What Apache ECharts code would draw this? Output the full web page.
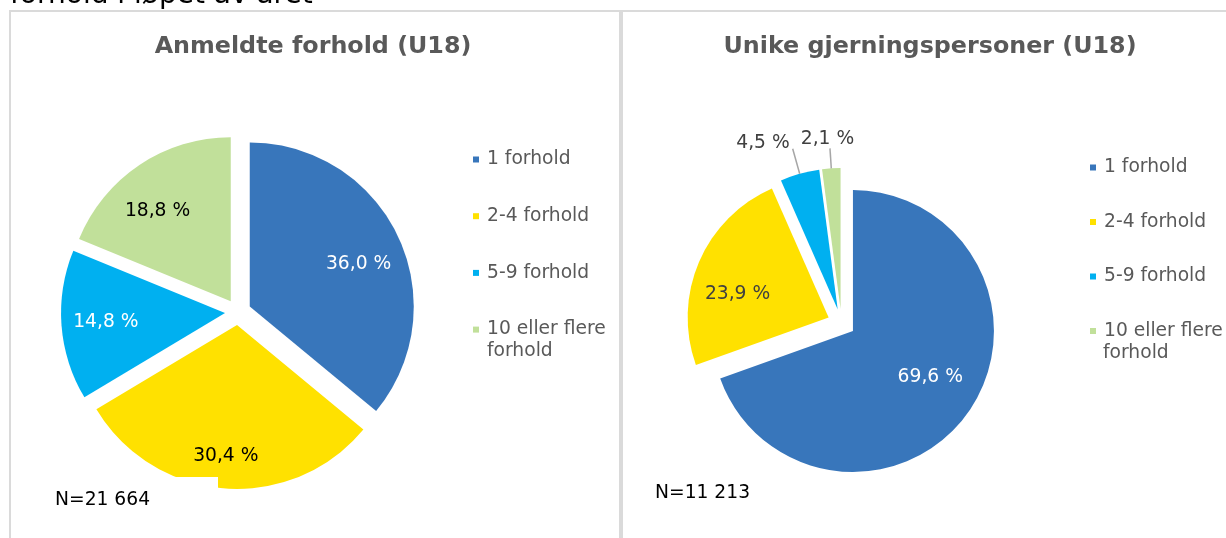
<!DOCTYPE html>
<html>
<head>
<meta charset="utf-8">
<script src="https://cdn.jsdelivr.net/npm/echarts@6/dist/echarts.min.js"></script>
<style>
html,body{margin:0;padding:0;background:#fff;}
#chart{width:1226px;height:538px;}
</style>
</head>
<body>
<div id="chart"></div>
<script>
// ---- data ----
const categories = ['1 forhold', '2-4 forhold', '5-9 forhold', '10 eller flere forhold'];
const anmeldteValues = [36.0, 30.4, 14.8, 18.8];
const unikeValues = [69.6, 23.9, 4.5, 2.1];
const colors = ['#3876bb', '#ffe100', '#00b0f0', '#c1e09a'];
const leftTitle = 'Anmeldte forhold (U18)';
const rightTitle = 'Unike gjerningspersoner (U18)';
const leftN = 'N=21 664';
const rightN = 'N=11 213';
const leftLabelColors = ['#ffffff', '#000000', '#ffffff', '#000000'];
const rightLabelColors = ['#ffffff', '#404040', '#404040', '#404040'];

const FONT = 'DejaVu Sans, Verdana, sans-serif';
const FS = 18.7;
const fmt = v => v.toFixed(1).replace('.', ',') + ' %';

// label fine placement (vertical anchor + padding) per slice
const leftLabelVA = ['top', 'top', 'middle', 'top'];
const leftLabelPad = [[0.5, 4, 0, 0], [0, 4, 0, 0], [0, 0, 0, 6], [2.5, 10, 0, 0]];
const rightLabelVA = ['bottom', 'top', 'bottom', 'bottom'];
const rightLabelPad = [[0, 4, 0, 0], [5.5, 4, 0, 0], [0, 3, -4, 0], [0, 5, 0, 0]];
const rightLabelAlign = [null, null, null, 'center'];

function visiblePie(values, center, radius, offset) {
  return {
    type: 'pie', center: center, radius: radius,
    startAngle: 90, clockwise: true,
    selectedMode: 'multiple', selectedOffset: offset,
    avoidLabelOverlap: false,
    label: { show: false }, labelLine: { show: false },
    emphasis: { disabled: true },
    select: { itemStyle: { borderWidth: 0 } },
    z: 2,
    data: categories.map((c, i) => ({
      name: c, value: values[i], selected: true,
      itemStyle: { color: colors[i], borderWidth: 0 }
    }))
  };
}

function labelPie(values, center, r0, radius, offset, labelColors, pads, vAligns, hAligns, outside) {
  return {
    type: 'pie', center: center, radius: [r0, radius],
    startAngle: 90, clockwise: true,
    selectedMode: 'multiple', selectedOffset: offset,
    avoidLabelOverlap: false, silent: true,
    emphasis: { disabled: true },
    select: { itemStyle: { borderWidth: 0 } },
    z: 3,
    label: {
      show: true, position: 'inside', fontFamily: FONT, fontSize: FS, lineHeight: 19,
      formatter: p => fmt(p.value)
    },
    labelLine: { show: false },
    labelLayout: function (p) {
      const o = { verticalAlign: vAligns[p.dataIndex] };
      if (hAligns && hAligns[p.dataIndex]) o.align = hAligns[p.dataIndex];
      return o;
    },
    data: categories.map((c, i) => {
      const d = {
        name: c, value: values[i], selected: true,
        itemStyle: { color: 'rgba(0,0,0,0)', borderWidth: 0 },
        label: { color: labelColors[i], padding: pads[i] }
      };
      if (outside && outside[i]) {
        d.label.position = 'outside';
        d.label.distanceToLabelLine = 0;
        d.labelLine = { show: true, length: outside[i], length2: 0,
          lineStyle: { color: '#a6a6a6', width: 1.5 } };
      }
      return d;
    })
  };
}

const rightOutsideLen = { 2: 26, 3: 20 };

function legend(left, top, gap) {
  return {
    orient: 'vertical', left: left, top: top, padding: 0,
    itemWidth: 6, itemHeight: 6, icon: 'rect', itemGap: gap,
    selectedMode: false,
    data: categories,
    formatter: n => n === '10 eller flere forhold' ? '10 eller flere' : n,
    textStyle: { fontFamily: FONT, fontSize: FS, lineHeight: 18, color: '#595959', padding: [0, 0, 0, 3] }
  };
}

const chart = echarts.init(document.getElementById('chart'), null, { renderer: 'canvas' });
chart.setOption({
  animation: false,
  backgroundColor: '#ffffff',
  color: colors,
  legend: [legend(473, 150, 37.7), legend(1090, 158, 35.5)],
  graphic: [
    { type: 'text', x: 10, y: -4.5, z: 1, style: { text: 'forhold i løpet av året', font: '28px ' + FONT, fill: '#000', verticalAlign: 'middle' } },
    { type: 'rect', shape: { x: 10, y: 11, width: 610, height: 600 }, z: 0, style: { fill: 'none', stroke: '#dadada', lineWidth: 2 } },
    { type: 'rect', shape: { x: 622, y: 11, width: 700, height: 600 }, z: 0, style: { fill: 'none', stroke: '#dadada', lineWidth: 2 } },
    { type: 'text', x: 313, y: 47, z: 10, style: { text: leftTitle, font: 'bold 23.8px ' + FONT, fill: '#595959', align: 'center', verticalAlign: 'middle' } },
    { type: 'text', x: 930, y: 47, z: 10, style: { text: rightTitle, font: 'bold 23.8px ' + FONT, fill: '#595959', align: 'center', verticalAlign: 'middle' } },
    { type: 'rect', shape: { x: 40, y: 477, width: 178, height: 45 }, z: 100, style: { fill: '#ffffff' } },
    { type: 'text', x: 55, y: 500, z: 101, style: { text: leftN, font: FS + 'px ' + FONT, fill: '#000', verticalAlign: 'middle' } },
    { type: 'text', x: 655, y: 493, z: 101, style: { text: rightN, font: FS + 'px ' + FONT, fill: '#000', verticalAlign: 'middle' } },
    { type: 'text', x: 487, y: 351, z: 10, style: { text: 'forhold', font: FS + 'px ' + FONT, fill: '#595959', verticalAlign: 'middle' } },
    { type: 'text', x: 1103, y: 353, z: 10, style: { text: 'forhold', font: FS + 'px ' + FONT, fill: '#595959', verticalAlign: 'middle' } }
  ],
  series: [
    visiblePie(anmeldteValues, [238, 312], 164, 13),
    visiblePie(unikeValues, [841.5, 323], 141, 14),
    labelPie(anmeldteValues, [238, 312], 75, 164, 13, leftLabelColors, leftLabelPad, leftLabelVA, null, null),
    labelPie(unikeValues, [841.5, 323], 47, 141, 14, rightLabelColors, rightLabelPad, rightLabelVA, rightLabelAlign, rightOutsideLen)
  ]
});
</script>
</body>
</html>
